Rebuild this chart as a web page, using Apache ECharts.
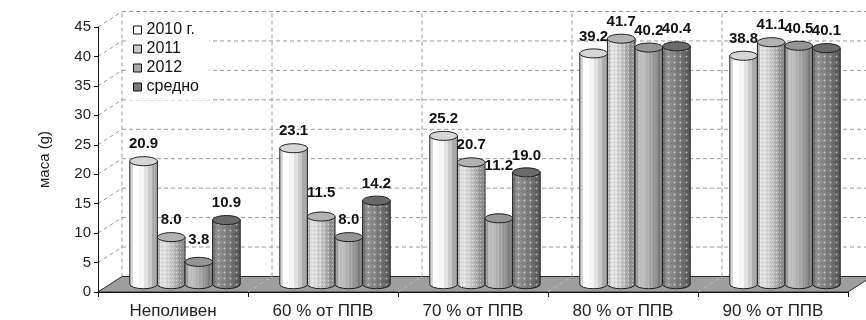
<!DOCTYPE html>
<html>
<head>
<meta charset="utf-8">
<script src="https://cdn.jsdelivr.net/npm/echarts@6/dist/echarts.min.js"></script>
<style>
  html, body { margin: 0; padding: 0; background: #fff; }
  #chart { width: 866px; height: 320px; }
</style>
</head>
<body>
<div id="chart"></div>
<script>
// Fruit mass (g) under different irrigation regimes
const categories = ['Неполивен', '60 % от ППВ', '70 % от ППВ', '80 % от ППВ', '90 % от ППВ'];
const seriesNames = ['2010 г.', '2011', '2012', 'средно'];
const values2010 = [20.9, 23.1, 25.2, 39.2, 38.8];
const values2011 = [8.0, 11.5, 20.7, 41.7, 41.1];
const values2012 = [3.8, 8.0, 11.2, 40.2, 40.5];
const valuesAvg  = [10.9, 14.2, 19.0, 40.4, 40.1];
const yTicks = [0, 5, 10, 15, 20, 25, 30, 35, 40, 45];

const FONT = '"Liberation Sans", Arial, sans-serif';
// oblique depth of the floor / back wall
const DX = 24, DY = -15.5;
// extra lift (px) for a few value labels that sit higher above their column
const labelLift = { '1-1': 7, '2-0': 5, '2-2': 35 };

// small repeating textures for the dotted columns
function texture(size, draw) {
  const c = document.createElement('canvas');
  c.width = c.height = size;
  draw(c.getContext('2d'));
  return c;
}
const dotsLight = texture(4, g => {
  g.fillStyle = 'rgba(255,255,255,0.55)'; g.fillRect(0, 0, 1, 1);
  g.fillStyle = 'rgba(0,0,0,0.18)'; g.fillRect(2, 2, 1, 1);
});
const crossDark = texture(6, g => {
  g.fillStyle = 'rgba(255,255,255,0.28)';
  g.fillRect(2, 1, 1, 3); g.fillRect(1, 2, 3, 1);
  g.fillStyle = 'rgba(0,0,0,0.25)'; g.fillRect(5, 5, 1, 1);
});
const stripes = texture(3, g => {
  g.fillStyle = 'rgba(255,255,255,0.12)'; g.fillRect(0, 0, 1, 3);
});

// look of each column: base grey, top colour, legend swatch, texture
const looks = [
  { base: 238, top: '#d6d6d6', swatch: '#ffffff', tex: null },
  { base: 204, top: '#b2b2b2', swatch: '#c8c8c8', tex: dotsLight },
  { base: 170, top: '#959595', swatch: '#a8a8a8', tex: stripes },
  { base: 128, top: '#6a6a6a', swatch: '#7a7a7a', tex: crossDark }
];

function grey(v) {
  v = Math.max(0, Math.min(255, Math.round(v)));
  return 'rgb(' + v + ',' + v + ',' + v + ')';
}
// faceted horizontal shading of a cylinder
function facetGradient(base) {
  const pos = [0, 0.1, 0.35, 0.5, 0.65, 0.8, 1];
  const k = [0.9, 1.1, 1.03, 0.95, 0.85, 0.72];
  const stops = [];
  for (let i = 0; i < k.length; i++) {
    stops.push({ offset: pos[i], color: grey(base * k[i]) });
    stops.push({ offset: pos[i + 1], color: grey(base * k[i]) });
  }
  return { type: 'linear', x: 0, y: 0, x2: 1, y2: 0, colorStops: stops };
}

function cylinderRenderer(si) {
  const look = looks[si];
  return function (params, api) {
    const cat = api.value(0), val = api.value(1);
    const band = api.size([1, 0])[0];
    const bw = band * 0.184;
    const top = api.coord([cat, val]);
    const base = api.coord([cat, 0]);
    const cx = top[0] - 2 * bw + bw * (si + 0.5) + DX / 2;
    const yTop = top[1] + DY / 2;
    const yBot = base[1] + DY / 2;
    const rx = bw / 2, ry = 4.5;
    const d = 'M' + (cx - rx) + ' ' + yTop + 'L' + (cx - rx) + ' ' + yBot +
      'A' + rx + ' ' + ry + ' 0 0 0 ' + (cx + rx) + ' ' + yBot +
      'L' + (cx + rx) + ' ' + yTop + 'Z';
    const children = [
      { type: 'path', shape: { pathData: d }, style: { fill: facetGradient(look.base), stroke: null } }
    ];
    if (look.tex) {
      children.push({ type: 'path', shape: { pathData: d },
        style: { fill: { image: look.tex, repeat: 'repeat' }, stroke: null } });
    }
    children.push({ type: 'path', shape: { pathData: d },
      style: { fill: null, stroke: '#1e1e1e', lineWidth: 1 } });
    children.push({ type: 'ellipse', shape: { cx: cx, cy: yTop, rx: rx, ry: ry },
      style: { fill: look.top, stroke: '#1e1e1e', lineWidth: 1 } });
    const lift = labelLift[si + '-' + cat] || 0;
    children.push({ type: 'text', z2: 100,
      style: { text: val.toFixed(1), x: cx, y: yTop - 17 - lift,
        align: 'center', verticalAlign: 'middle',
        textAlign: 'center', textVerticalAlign: 'middle',
        font: 'bold 15px ' + FONT, fill: '#111' } });
    return { type: 'group', children: children };
  };
}

function renderWalls(params, api) {
  const n = categories.length;
  const band = api.size([1, 0])[0];
  const p0 = api.coord([0, 0]);
  const xL = p0[0] - band / 2;
  const xR = xL + band * n;
  const y0 = p0[1];
  const yMax = api.coord([0, yTicks[yTicks.length - 1]])[1];
  const dash = { stroke: '#9a9a9a', lineWidth: 1, lineDash: [4, 3], fill: null };
  const children = [];
  children.push({ type: 'polygon',
    shape: { points: [[xL, y0], [xR, y0], [xR + DX, y0 + DY], [xL + DX, y0 + DY]] },
    style: { fill: '#9e9e9e', stroke: '#2a2a2a', lineWidth: 1 } });
  for (let i = 1; i < n; i++) {
    const x = xL + band * i;
    children.push({ type: 'line', shape: { x1: x, y1: y0, x2: x + DX, y2: y0 + DY },
      style: { stroke: '#bdbdbd', lineWidth: 1, lineDash: [4, 3] } });
  }
  for (let i = 0; i <= n; i++) {
    const x = xL + band * i + DX;
    children.push({ type: 'line', shape: { x1: x, y1: y0 + DY, x2: x, y2: yMax + DY }, style: dash });
  }
  yTicks.forEach(function (v) {
    if (v === 0) return;
    const y = api.coord([0, v])[1];
    children.push({ type: 'line', shape: { x1: xL, y1: y, x2: xL + DX, y2: y + DY }, style: dash });
    children.push({ type: 'line', shape: { x1: xL + DX, y1: y + DY, x2: xR + DX, y2: y + DY }, style: dash });
  });
  return { type: 'group', children: children };
}

const seriesValues = [values2010, values2011, values2012, valuesAvg];

const chart = echarts.init(document.getElementById('chart'), null, { renderer: 'canvas' });
chart.setOption({
  animation: false,
  backgroundColor: '#fff',
  grid: { left: 98, right: 18, top: 27, bottom: 28, containLabel: false },
  legend: {
    data: seriesNames,
    orient: 'vertical',
    left: 128, top: 17,
    padding: [5, 10, 5, 5],
    backgroundColor: '#fff',
    itemWidth: 8, itemHeight: 8, itemGap: 3,
    icon: 'rect',
    itemStyle: { borderColor: '#111', borderWidth: 1 },
    textStyle: { fontFamily: FONT, fontSize: 16, color: '#111', lineHeight: 16 }
  },
  xAxis: {
    type: 'category',
    data: categories,
    z: 5,
    axisLine: { lineStyle: { color: '#111', width: 1 } },
    axisTick: { show: true, length: 5, alignWithLabel: false, interval: 0, lineStyle: { color: '#111' } },
    axisLabel: { fontFamily: FONT, fontSize: 17, color: '#222', margin: 11, interval: 0 },
    splitLine: { show: false }
  },
  yAxis: {
    type: 'value',
    min: 0, max: 45, interval: 5,
    z: 5,
    name: 'маса (g)',
    nameLocation: 'middle',
    nameGap: 46,
    nameTextStyle: { fontFamily: FONT, fontSize: 15, color: '#222' },
    axisLine: { show: true, lineStyle: { color: '#111', width: 1 } },
    axisTick: { show: true, length: 4, lineStyle: { color: '#111' } },
    axisLabel: { fontFamily: FONT, fontSize: 15, color: '#222', margin: 7 },
    splitLine: { show: false }
  },
  series: [
    {
      type: 'custom', name: 'walls', z: 1, silent: true,
      renderItem: renderWalls,
      data: [[0, 0]]
    }
  ].concat(seriesNames.map(function (name, si) {
    return {
      type: 'custom', name: name, z: 2,
      itemStyle: { color: looks[si].swatch },
      renderItem: cylinderRenderer(si),
      encode: { x: 0, y: 1 },
      data: seriesValues[si].map(function (v, i) { return [i, v]; })
    };
  }))
});
</script>
</body>
</html>
